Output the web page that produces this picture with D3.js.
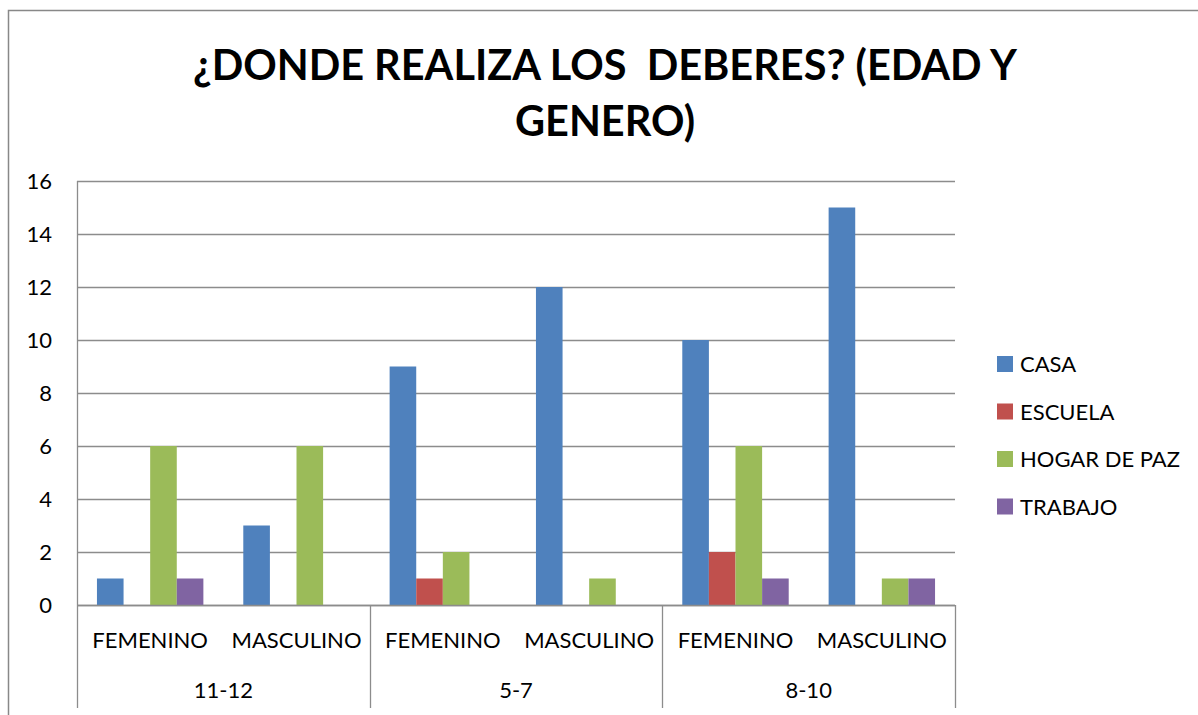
<!DOCTYPE html>
<html>
<head>
<meta charset="utf-8">
<script src="https://cdn.jsdelivr.net/npm/d3@7"></script>
<style>
  body { margin: 0; background: #fff; }
  text { font-family: Lato, "Open Sans", sans-serif; fill: #000; }
  .title { white-space: pre; }
</style>
</head>
<body>
<svg id="chart" width="1198" height="715"></svg>
<script>
// data
var groups = ["11-12", "5-7", "8-10"];
var genders = ["FEMENINO", "MASCULINO"];
var series = ["CASA", "ESCUELA", "HOGAR DE PAZ", "TRABAJO"];
var colors = ["#4F81BD", "#C0504D", "#9BBB59", "#8064A2"];
var casa    = [1, 3, 9, 12, 10, 15];
var escuela = [0, 0, 1, 0, 2, 0];
var hogar   = [6, 6, 2, 1, 6, 1];
var trabajo = [1, 0, 0, 0, 1, 1];
var yTicks = [0, 2, 4, 6, 8, 10, 12, 14, 16];
var titleLines = ["¿DONDE REALIZA LOS  DEBERES? (EDAD Y", "GENERO)"];

var values = [casa, escuela, hogar, trabajo];
var cats = [];
groups.forEach(function (g) {
    genders.forEach(function (s) { cats.push(g + "|" + s); });
});

var svg = d3.select("#chart");
var plotL = 77, plotR = 955, plotT = 181, plotB = 605;
var labelSize = "22px";

// outer frame (only top and left edges are visible)
svg.append("path")
    .attr("d", "M8.5,715 V10.5 H1198")
    .attr("fill", "none")
    .attr("stroke", "#888")
    .attr("stroke-width", 1.5);

var x = d3.scaleBand().domain(cats).range([plotL, plotR]);
var xs = d3.scaleBand().domain(series).range([0, x.bandwidth()]).paddingOuter(0.75);
var y = d3.scaleLinear().domain([0, 16]).range([plotB, plotT]);

// gridlines
svg.append("g").selectAll("line").data(yTicks).enter().append("line")
    .attr("x1", plotL).attr("x2", plotR)
    .attr("y1", function (d) { return Math.round(y(d)) + 0.5; })
    .attr("y2", function (d) { return Math.round(y(d)) + 0.5; })
    .attr("stroke", "#8c8c8c").attr("stroke-width", 1.3);

// y axis
var yAxis = d3.axisLeft(y).tickValues(yTicks).tickSize(0).tickPadding(25);
var ya = svg.append("g").attr("transform", "translate(" + plotL + ",0)").call(yAxis);
ya.select(".domain").remove();
ya.selectAll("text").style("font-size", labelSize).style("font-family", "Lato, sans-serif").attr("fill", "#000");
svg.append("line").attr("x1", plotL + 0.5).attr("x2", plotL + 0.5).attr("y1", plotT).attr("y2", plotB)
    .attr("stroke", "#8c8c8c").attr("stroke-width", 1.3);

// bars
series.forEach(function (s, si) {
    svg.append("g").selectAll("rect").data(values[si]).enter().append("rect")
        .attr("x", function (d, i) { return x(cats[i]) + xs(s); })
        .attr("width", xs.bandwidth())
        .attr("y", function (d) { return y(d); })
        .attr("height", function (d) { return y(0) - y(d); })
        .attr("fill", colors[si]);
});

// category axis: gender labels and age groups
var groupW = x.bandwidth() * genders.length;
svg.append("g").selectAll("text").data(cats).enter().append("text")
    .attr("x", function (d) { return x(d) + x.bandwidth() / 2; })
    .attr("y", 648)
    .attr("text-anchor", "middle")
    .style("font-size", labelSize)
    .text(function (d) { return d.split("|")[1]; });

svg.append("g").selectAll("text").data(groups).enter().append("text")
    .attr("x", function (d, i) { return plotL + groupW * i + groupW / 2; })
    .attr("y", 698)
    .attr("text-anchor", "middle")
    .style("font-size", labelSize)
    .text(function (d) { return d; });

var seps = d3.range(groups.length + 1).map(function (i) { return plotL + groupW * i; });
svg.append("g").selectAll("line").data(seps).enter().append("line")
    .attr("x1", function (d) { return Math.round(d) + 0.5; })
    .attr("x2", function (d) { return Math.round(d) + 0.5; })
    .attr("y1", plotB).attr("y2", 708)
    .attr("stroke", "#8c8c8c").attr("stroke-width", 1.3);
svg.append("line").attr("x1", plotL).attr("x2", plotR)
    .attr("y1", plotB + 0.5).attr("y2", plotB + 0.5)
    .attr("stroke", "#8c8c8c").attr("stroke-width", 1.5);

// legend
var leg = svg.append("g").selectAll("g").data(series).enter().append("g")
    .attr("transform", function (d, i) { return "translate(997," + (356 + i * 47.5) + ")"; });
leg.append("rect").attr("width", 16).attr("height", 16)
    .attr("fill", function (d, i) { return colors[i]; });
leg.append("text").attr("x", 23).attr("y", 16)
    .style("font-size", labelSize)
    .text(function (d) { return d; });

// title, sized to the width of the first line
var title = svg.append("g");
var t1 = title.append("text").attr("class", "title").attr("xml:space", "preserve")
    .attr("x", 605).attr("y", 80).attr("text-anchor", "middle")
    .style("font-weight", "bold").style("font-size", "40px").text(titleLines[0]);
var fs = 40 * 824 / t1.node().getComputedTextLength();
t1.style("font-size", fs + "px");
title.append("text").attr("class", "title")
    .attr("x", 605).attr("y", 136).attr("text-anchor", "middle")
    .style("font-weight", "bold").style("font-size", fs + "px").text(titleLines[1]);
</script>
</body>
</html>
